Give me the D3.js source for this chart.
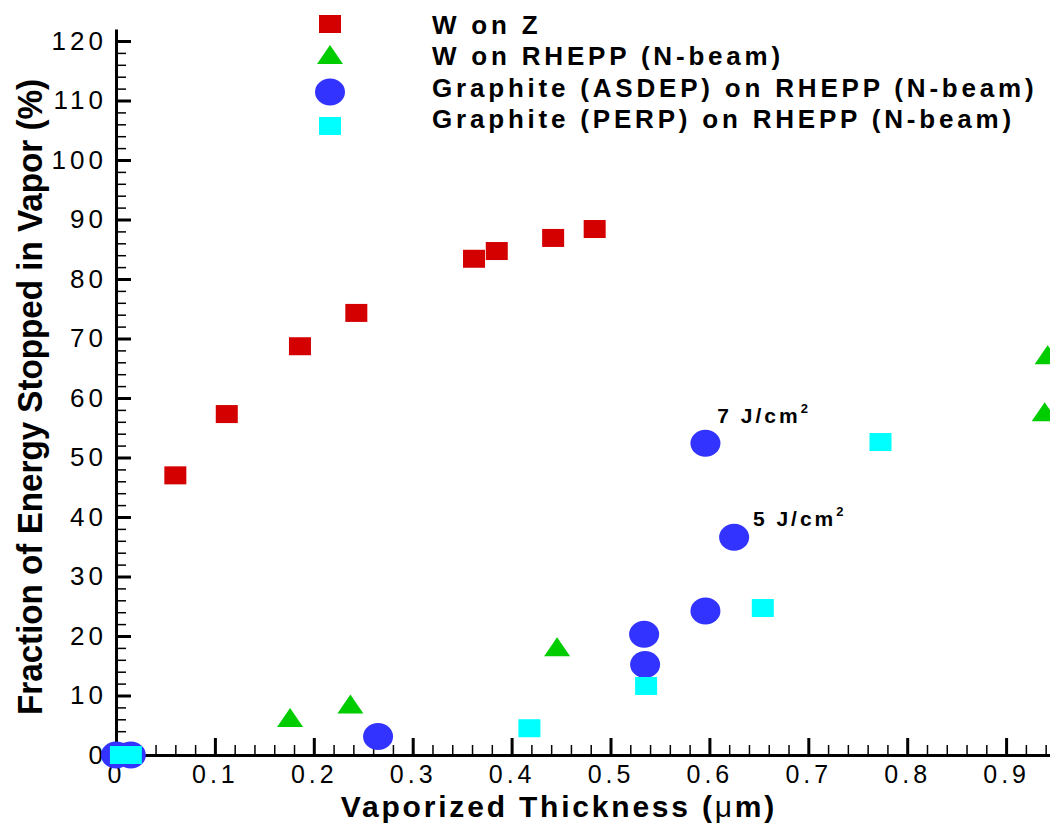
<!DOCTYPE html>
<html>
<head>
<meta charset="utf-8">
<script src="https://cdn.jsdelivr.net/npm/d3@7"></script>
<style>
body { margin: 0; background: #fff; }
svg { display: block; font-family: "Liberation Sans", Arial, sans-serif; }
</style>
</head>
<body>
<script>
// data: [thickness (um), fraction (%)]
let wOnZ = [[0.06, 47], [0.112, 57.3], [0.186, 68.7], [0.243, 74.3], [0.362, 83.4], [0.385, 84.7], [0.442, 86.9], [0.484, 88.4]];
let wOnRhepp = [[0.176, 6.2], [0.237, 8.5], [0.446, 18.1], [0.942, 67.2], [0.939, 57.6]];
let graphiteAsdep = [[0.0, 0], [0.015, 0], [0.265, 3.1], [0.534, 20.3], [0.535, 15.2], [0.596, 24.2], [0.596, 52.4], [0.625, 36.6]];
let graphitePerp = [[0.005, 0], [0.015, 0], [0.418, 4.5], [0.536, 11.6], [0.654, 24.7], [0.773, 52.6]];

let seriesNames = ["W on Z", "W on RHEPP (N-beam)", "Graphite (ASDEP) on RHEPP (N-beam)", "Graphite (PERP) on RHEPP (N-beam)"];
let seriesColors = ["#d40000", "#00cc00", "#3333ff", "#00ffff"];
let seriesShapes = ["square", "triangle", "circle", "square"];

let yMajor = d3.range(0, 121, 10);
let yMinor = d3.range(0, 121, 2).filter(d => d % 10 !== 0);
let xMajor = d3.range(0, 10).map(d => d / 10);
let xMinor = d3.range(0, 48).map(d => d / 50).filter((d, i) => i % 5 !== 0);

let annotations = [[0.608, 55.8, "7"], [0.644, 38.5, "5"]];

let width = 1050;
let height = 824;

let x = d3.scaleLinear().domain([0, 0.95]).range([116, 116 + 0.95 * 989]);
let y = d3.scaleLinear().domain([0, 122]).range([755, 755 - 122 * 5.95]);

let svg = d3.select("body").append("svg").attr("width", width).attr("height", height);

// axes, ticks pointing inward
let yAxis = svg.append("g").attr("transform", "translate(" + x(0) + ",0)")
    .call(d3.axisLeft(y).tickValues(yMajor).tickSize(-15).tickSizeOuter(0).tickPadding(13));
let yAxisMinor = svg.append("g").attr("transform", "translate(" + x(0) + ",0)")
    .call(d3.axisLeft(y).tickValues(yMinor).tickSize(-10).tickSizeOuter(0).tickFormat(""));
let xAxis = svg.append("g").attr("transform", "translate(0," + y(0) + ")")
    .call(d3.axisBottom(x).tickValues(xMajor).tickSize(-17).tickSizeOuter(0).tickPadding(10)
        .tickFormat(d => d === 0 ? "0" : d3.format(".1f")(d)));
let xAxisMinor = svg.append("g").attr("transform", "translate(0," + y(0) + ")")
    .call(d3.axisBottom(x).tickValues(xMinor).tickSize(-10).tickSizeOuter(0).tickFormat(""));

svg.selectAll(".domain").attr("stroke", "#000").attr("stroke-width", 3);
yAxis.selectAll(".tick line").attr("stroke-width", 3);
xAxis.selectAll(".tick line").attr("stroke-width", 3);
yAxisMinor.selectAll(".tick line").attr("stroke-width", 1.5);
xAxisMinor.selectAll(".tick line").attr("stroke-width", 1.5);
yAxisMinor.select(".domain").remove();
xAxisMinor.select(".domain").remove();

svg.selectAll(".tick text").attr("font-family", "Liberation Sans, Arial, sans-serif")
    .attr("font-size", 26).attr("letter-spacing", 4).attr("fill", "#000");
xAxis.selectAll(".tick text").attr("font-size", 25);
yAxis.selectAll(".tick text").attr("dx", 4);

// markers
function drawMarker(g, shape, color) {
    if (shape === "square") {
        g.append("rect").attr("x", -11).attr("y", -9).attr("width", 22).attr("height", 18).attr("fill", color);
    } else if (shape === "triangle") {
        g.append("path").attr("d", "M0,-10L13,9L-13,9Z").attr("fill", color);
    } else {
        g.append("ellipse").attr("rx", 15).attr("ry", 13.5).attr("fill", color);
    }
}

let allSeries = [wOnZ, wOnRhepp, graphiteAsdep, graphitePerp];
allSeries.forEach((data, i) => {
    svg.append("g").selectAll("g").data(data).enter().append("g")
        .attr("transform", d => "translate(" + x(d[0]) + "," + y(d[1]) + ")")
        .each(function () { drawMarker(d3.select(this), seriesShapes[i], seriesColors[i]); });
});

// annotations
annotations.forEach(a => {
    let t = svg.append("text").attr("x", x(a[0])).attr("y", y(a[1]))
        .attr("font-size", 21).attr("font-weight", "bold").attr("letter-spacing", 3);
    t.append("tspan").text(a[2] + " J/cm");
    t.append("tspan").attr("font-size", 13).attr("dy", -10).text("2");
});

// legend
let legendY = [24, 55, 92, 126];
let legendBase = [34, 65, 97, 128];
seriesNames.forEach((name, i) => {
    let g = svg.append("g").attr("transform", "translate(330," + legendY[i] + ")");
    drawMarker(g, seriesShapes[i], seriesColors[i]);
    svg.append("text").attr("x", 432).attr("y", legendBase[i])
        .attr("font-size", 26).attr("font-weight", "bold").attr("letter-spacing", 3.8)
        .text(name);
});

// axis titles
svg.append("text").attr("transform", "translate(42,397) rotate(-90)")
    .attr("text-anchor", "middle").attr("font-size", 35).attr("font-weight", "bold")
    .attr("textLength", 636).attr("lengthAdjust", "spacingAndGlyphs")
    .text("Fraction of Energy Stopped in Vapor (%)");

let xt = svg.append("text").attr("x", 559).attr("y", 817)
    .attr("text-anchor", "middle").attr("font-size", 30).attr("font-weight", "bold")
    .attr("letter-spacing", 2.8);
xt.append("tspan").text("Vaporized Thickness (");
xt.append("tspan").attr("font-weight", "normal").text("μ");
xt.append("tspan").text("m)");
</script>
</body>
</html>
